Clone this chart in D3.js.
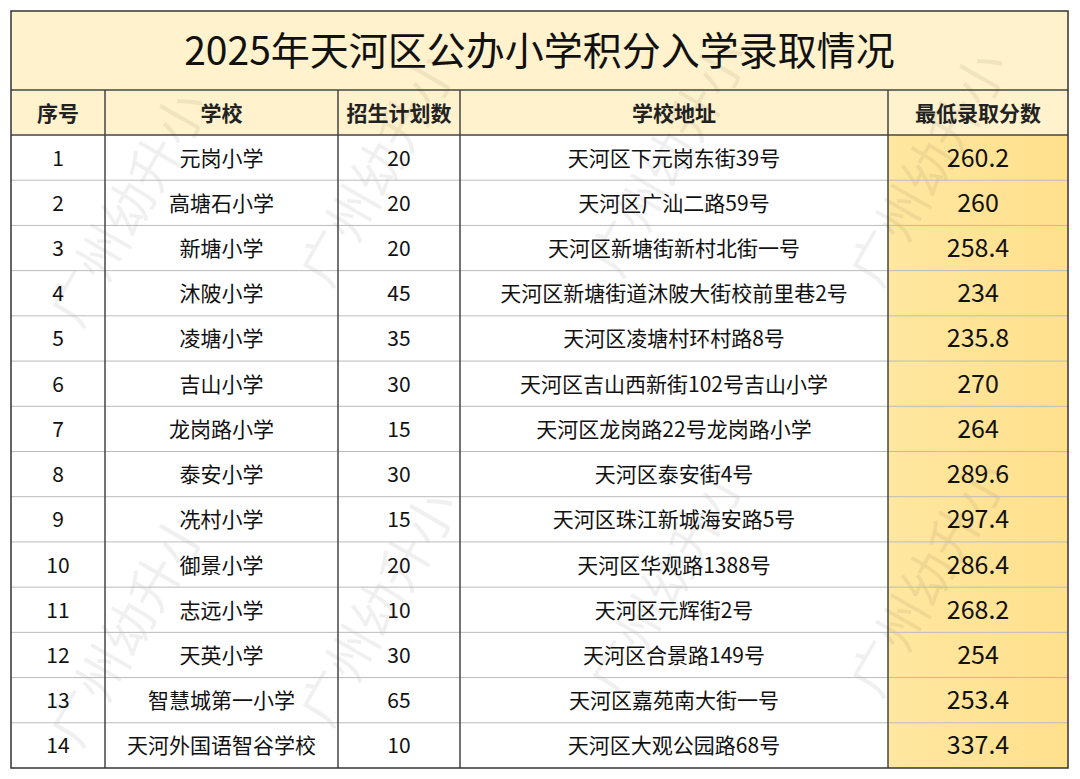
<!DOCTYPE html>
<html><head><meta charset="utf-8">
<script src="https://cdn.jsdelivr.net/npm/d3@7"></script>
<style>body{margin:0;background:#fff}</style>
</head><body>
<svg id="chart" width="1080" height="779"></svg>
<script>
var title = "2025年天河区公办小学积分入学录取情况";
var headers = ["序号", "学校", "招生计划数", "学校地址", "最低录取分数"];
var ids = [1,2,3,4,5,6,7,8,9,10,11,12,13,14];
var schools = ["元岗小学","高塘石小学","新塘小学","沐陂小学","凌塘小学","吉山小学","龙岗路小学","泰安小学","冼村小学","御景小学","志远小学","天英小学","智慧城第一小学","天河外国语智谷学校"];
var quotas = [20,20,20,45,35,30,15,30,15,20,10,30,65,10];
var addresses = ["天河区下元岗东街39号","天河区广汕二路59号","天河区新塘街新村北街一号","天河区新塘街道沐陂大街校前里巷2号","天河区凌塘村环村路8号","天河区吉山西新街102号吉山小学","天河区龙岗路22号龙岗路小学","天河区泰安街4号","天河区珠江新城海安路5号","天河区华观路1388号","天河区元辉街2号","天河区合景路149号","天河区嘉苑南大街一号","天河区大观公园路68号"];
var scores = ["260.2","260","258.4","234","235.8","270","264","289.6","297.4","286.4","268.2","254","253.4","337.4"];

var svg = d3.select("#chart");
var font = "'Noto Sans CJK SC', 'Noto Sans', sans-serif";
var colX = [11, 105, 338, 460, 888, 1068];
var titleTop = 11, headTop = 90, bodyTop = 135, bottom = 768;
var y = d3.scaleBand().domain(ids).range([bodyTop, bottom]);

var defs = svg.append("defs");
var g = defs.append("linearGradient").attr("id","gold").attr("x1",0).attr("x2",1);
g.append("stop").attr("offset","0%").attr("stop-color","#ffe7a1");
g.append("stop").attr("offset","100%").attr("stop-color","#ffe08c");

svg.append("rect").attr("x",colX[0]).attr("y",titleTop).attr("width",colX[5]-colX[0]).attr("height",bodyTop-titleTop).attr("fill","#fff2cc");
svg.append("rect").attr("x",colX[4]).attr("y",bodyTop).attr("width",colX[5]-colX[4]).attr("height",bottom-bodyTop).attr("fill","url(#gold)");

// watermarks
var wm = [[80,330],[330,290],[620,280],[880,290],[80,750],[330,730],[620,700],[880,700]];
svg.selectAll(".wm").data(wm).join("text")
  .attr("transform", d => `translate(${d[0]},${d[1]}) rotate(-60)`)
  .attr("font-family", font).attr("font-size", 52).attr("fill","#000").attr("fill-opacity",0.06)
  .text("广州幼升小");

svg.append("text").attr("x",(colX[0]+colX[5])/2).attr("y",(titleTop+headTop)/2+14)
  .attr("text-anchor","middle").attr("font-family",font).attr("font-size",39).attr("fill","#111").text(title);

headers.forEach(function(h,i){
  svg.append("text").attr("x",(colX[i]+colX[i+1])/2).attr("y",(headTop+bodyTop)/2+8)
    .attr("text-anchor","middle").attr("font-family",font).attr("font-size",21).attr("font-weight","bold").attr("fill","#222").text(h);
});

var cols = [ids, schools, quotas, addresses, scores];
ids.forEach(function(id,r){
  cols.forEach(function(c,i){
    svg.append("text").attr("x",(colX[i]+colX[i+1])/2).attr("y",y(id)+y.bandwidth()/2+(i==4?9:8))
      .attr("text-anchor","middle").attr("font-family",font).attr("font-size",i==4?25:21).attr("fill","#111").text(c[r]);
  });
});

var lineG = svg.append("g").attr("stroke","#444").attr("stroke-width",1.5);
ids.slice(1).forEach(function(id){
  lineG.append("line").attr("x1",colX[0]).attr("x2",colX[5]).attr("y1",y(id)).attr("y2",y(id)).attr("stroke","#bbb").attr("stroke-width",1);
});
[headTop, bodyTop].forEach(function(v){
  lineG.append("line").attr("x1",colX[0]).attr("x2",colX[5]).attr("y1",v).attr("y2",v);
});
colX.slice(1,5).forEach(function(v){
  lineG.append("line").attr("x1",v).attr("x2",v).attr("y1",headTop).attr("y2",bottom);
});
lineG.append("rect").attr("x",colX[0]).attr("y",titleTop).attr("width",colX[5]-colX[0]).attr("height",bottom-titleTop).attr("fill","none").attr("stroke","#333");
</script>
</body></html>
